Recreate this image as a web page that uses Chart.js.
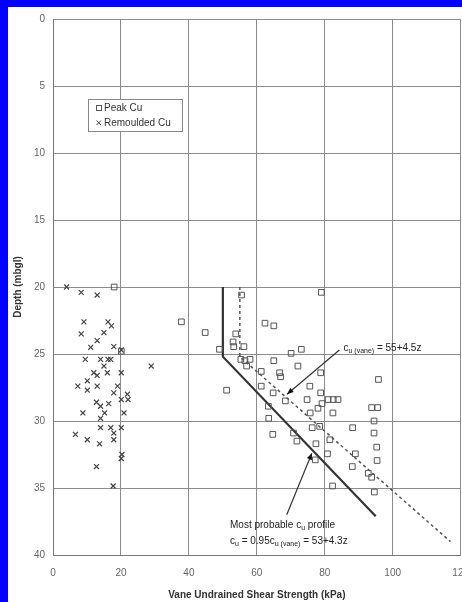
<!DOCTYPE html>
<html>
<head>
<meta charset="utf-8">
<script src="https://cdn.jsdelivr.net/npm/chart.js@4.4.1/dist/chart.umd.min.js"></script>
<style>
  html, body { margin: 0; padding: 0; overflow: hidden; background: #0000ff; }
  #chart { position: absolute; left: 0; top: 0; }
</style>
</head>
<body>
<canvas id="chart" width="481" height="602"></canvas>
<script>
// peak vane cu (kPa, depth m)
var peakCu = [
  [18,20],[20.1,24.8],[37.8,22.6],[44.8,23.4],[49,24.65],[51.1,27.7],
  [55.5,20.6],[79,20.4],
  [53.8,23.5],[53,24.1],[53.2,24.45],[56.2,24.45],
  [55.3,25.4],[56.5,25.5],[58,25.4],[57,25.9],
  [62.4,22.7],[65,22.9],[73.1,24.65],[70.1,24.95],
  [65,25.5],[72.1,25.9],[61.3,26.3],[66.7,26.4],[67,26.7],[78.8,26.4],[95.8,26.9],
  [61.3,27.4],[75.6,27.4],[64.8,27.9],[78.8,27.9],
  [68.4,28.5],[74.8,28.4],[81,28.4],[82.5,28.4],[83.9,28.4],
  [79.2,28.7],[78,29.05],[63.4,28.9],[93.8,29.0],[95.6,29.0],
  [75.7,29.4],[82.4,29.4],[63.5,29.8],[94.5,30.0],
  [76.3,30.5],[78.5,30.4],[88.2,30.5],[64.7,31.0],[70.8,30.9],[94.5,30.9],
  [71.8,31.5],[77.4,31.7],[81.5,31.4],[95.3,31.95],
  [77.2,32.9],[80.8,32.45],[89,32.45],[95.4,32.95],
  [88.1,33.4],[92.8,33.9],[93.8,34.2],[82.3,34.85],[94.6,35.3]
];

// remoulded vane cu
var remouldedCu = [
  [4,20],[8.3,20.4],[13,20.6],
  [9.1,22.6],[16.2,22.6],[17.2,22.9],[8.3,23.5],[15,23.4],[13,24],[11.1,24.5],[17.9,24.45],[20.1,24.7],
  [9.5,25.4],[14,25.4],[16.2,25.4],[17,25.4],[15,25.9],[28.9,25.9],
  [12,26.4],[13,26.6],[16,26.4],[20.1,26.4],
  [10.1,27],[7.3,27.4],[13,27.4],[19,27.4],[10.1,27.7],[17.9,27.9],[21.9,28],
  [20.1,28.4],[22.1,28.4],[12.8,28.6],[16.4,28.7],[14,28.9],
  [8.8,29.4],[15.2,29.4],[20.9,29.4],[14,29.8],
  [14,30.5],[17,30.5],[20.1,30.5],[17.9,30.9],[6.6,31],
  [10.1,31.4],[17.9,31.4],[13.7,31.7],
  [20.3,32.5],[20.1,32.8],[12.8,33.4],[17.7,34.85]
];

// design lines
var vaneLine = [[55,20],[55,25.2],[117,39]];
var probableLine = [[50,20],[50,25.2],[95,37.1]];

// annotation arrows: from (text end) to (line)
var vaneArrow = [[84.3,24.7],[68.9,28.0]];
var probableArrow = [[68.8,37.0],[76.2,32.4]];

function toXY(arr) {
  return arr.map(function(p) { return {x: p[0], y: p[1]}; });
}

var FONT = '"Liberation Sans", Arial, sans-serif';

var bgPlugin = {
  id: 'bg',
  beforeDraw: function(chart) {
    var ctx = chart.ctx;
    ctx.save();
    ctx.fillStyle = '#0000ff';
    ctx.fillRect(0, 0, chart.width, chart.height);
    ctx.fillStyle = '#ffffff';
    ctx.fillRect(8, 7, chart.width - 8, chart.height - 7);
    ctx.restore();
  }
};

function drawRich(ctx, x, y, parts) {
  parts.forEach(function(p) {
    if (p[1]) {
      ctx.font = '7px ' + FONT;
      ctx.fillText(p[0], x, y + 3);
    } else {
      ctx.font = '10px ' + FONT;
      ctx.fillText(p[0], x, y);
    }
    x += ctx.measureText(p[0]).width;
  });
}

function drawArrow(ctx, xs, ys, a) {
  var x1 = xs.getPixelForValue(a[0][0]), y1 = ys.getPixelForValue(a[0][1]);
  var x2 = xs.getPixelForValue(a[1][0]), y2 = ys.getPixelForValue(a[1][1]);
  ctx.strokeStyle = '#333';
  ctx.lineWidth = 1.2;
  ctx.beginPath();
  ctx.moveTo(x1, y1);
  ctx.lineTo(x2, y2);
  ctx.stroke();
  var ang = Math.atan2(y2 - y1, x2 - x1);
  ctx.fillStyle = '#111';
  ctx.beginPath();
  ctx.moveTo(x2, y2);
  ctx.lineTo(x2 - 7 * Math.cos(ang - 0.4), y2 - 7 * Math.sin(ang - 0.4));
  ctx.lineTo(x2 - 7 * Math.cos(ang + 0.4), y2 - 7 * Math.sin(ang + 0.4));
  ctx.closePath();
  ctx.fill();
}

var notePlugin = {
  id: 'notes',
  afterDatasetsDraw: function(chart) {
    var ctx = chart.ctx;
    var xs = chart.scales.x, ys = chart.scales.y;
    ctx.save();

    // legend box
    ctx.fillStyle = '#fff';
    ctx.fillRect(88, 99, 94, 32);
    ctx.strokeStyle = '#888';
    ctx.lineWidth = 1;
    ctx.strokeRect(88.5, 99.5, 94, 32);
    ctx.strokeStyle = '#555';
    ctx.strokeRect(96.5, 105.5, 5, 5);
    ctx.strokeStyle = '#444';
    ctx.beginPath();
    ctx.moveTo(96.5, 120.5); ctx.lineTo(101, 125);
    ctx.moveTo(101, 120.5); ctx.lineTo(96.5, 125);
    ctx.stroke();
    ctx.fillStyle = '#333';
    ctx.textBaseline = 'middle';
    ctx.font = '10px ' + FONT;
    ctx.fillText('Peak Cu', 104, 108.5);
    ctx.fillText('Remoulded Cu', 104, 123);

    // annotations
    drawArrow(ctx, xs, ys, vaneArrow);
    drawArrow(ctx, xs, ys, probableArrow);
    ctx.fillStyle = '#222';
    drawRich(ctx, xs.getPixelForValue(85.5), ys.getPixelForValue(24.55),
      [['c'], ['u (vane)', true], [' = 55+4.5z']]);
    drawRich(ctx, xs.getPixelForValue(52.1), ys.getPixelForValue(37.8),
      [['Most probable c'], ['u', true], [' profile']]);
    drawRich(ctx, xs.getPixelForValue(52.1), ys.getPixelForValue(38.95),
      [['c'], ['u', true], [' = 0.95c'], ['u (vane)', true], [' = 53+4.3z']]);
    ctx.restore();
  }
};

var ctx = document.getElementById('chart').getContext('2d');
var chart = new Chart(ctx, {
  type: 'scatter',
  data: {
    datasets: [
      {
        label: 'Peak Cu',
        data: toXY(peakCu),
        pointStyle: 'rect',
        pointRadius: 4,
        backgroundColor: 'rgba(255,255,255,0)',
        borderColor: '#555',
        borderWidth: 1,
        order: 1
      },
      {
        label: 'Remoulded Cu',
        data: toXY(remouldedCu),
        pointStyle: 'crossRot',
        pointRadius: 3.5,
        borderColor: '#444',
        borderWidth: 1.2,
        order: 2
      },
      {
        label: 'cu vane',
        data: toXY(vaneLine),
        showLine: true,
        pointRadius: 0,
        borderColor: '#555',
        borderWidth: 1.5,
        borderDash: [3, 3],
        order: 3
      },
      {
        label: 'most probable',
        data: toXY(probableLine),
        showLine: true,
        pointRadius: 0,
        borderColor: '#333',
        borderWidth: 2.2,
        order: 4
      }
    ]
  },
  options: {
    responsive: false,
    animation: false,
    devicePixelRatio: 1,
    layout: { padding: { left: 0, top: 19, right: 10, bottom: 0 } },
    plugins: {
      legend: { display: false },
      tooltip: { enabled: false }
    },
    scales: {
      x: {
        type: 'linear',
        min: 0,
        max: 120,
        afterFit: function(scale) { scale.height = 47; },
        ticks: { stepSize: 20, padding: 12, color: '#666', font: { family: FONT, size: 10 } },
        grid: { color: '#8c8c8c', drawTicks: false },
        border: { color: '#777' },
        title: {
          display: true,
          text: 'Vane Undrained Shear Strength (kPa)',
          color: '#333',
          font: { family: FONT, size: 10, weight: 'bold' },
          padding: { top: 0, bottom: 1 }
        }
      },
      y: {
        type: 'linear',
        reverse: true,
        min: 0,
        max: 40,
        afterFit: function(scale) { scale.width = 53; },
        ticks: { stepSize: 5, padding: 8, color: '#666', font: { family: FONT, size: 10 } },
        grid: { color: '#8c8c8c', drawTicks: false },
        border: { color: '#777' },
        title: {
          display: true,
          text: 'Depth (mbgl)',
          color: '#333',
          font: { family: FONT, size: 10, weight: 'bold' },
          padding: { top: 12, bottom: 0 }
        }
      }
    }
  },
  plugins: [bgPlugin, notePlugin]
});
</script>
</body>
</html>
